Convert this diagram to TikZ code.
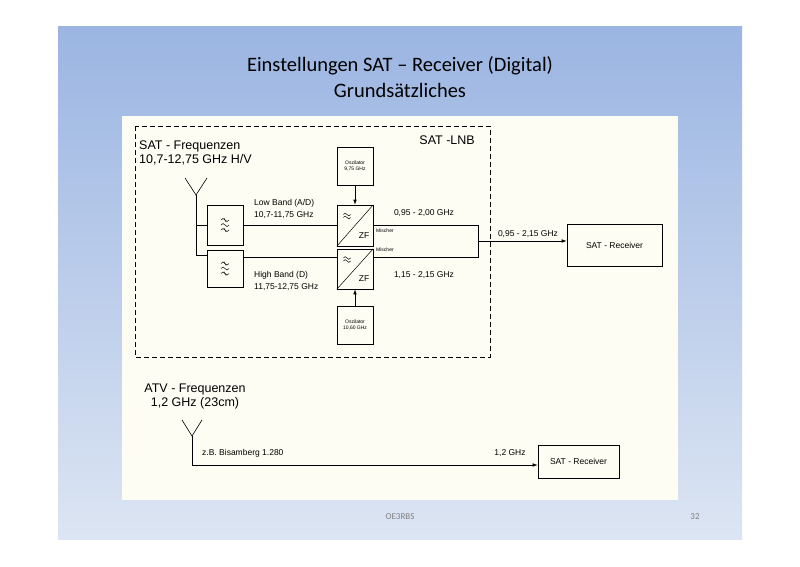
\documentclass[tikz,border=0pt]{standalone}
\usepackage{fontspec}
\setmainfont{Liberation Sans}
\newfontfamily\titlefont{Carlito}
\newfontfamily\symfont{DejaVu Sans}
\usetikzlibrary{arrows.meta}
\definecolor{topblue}{HTML}{9BB5E2}
\definecolor{botblue}{HTML}{DCE5F3}
\definecolor{cream}{HTML}{FDFDF3}
\tikzset{
  blk/.style={draw,line width=0.6pt,fill=cream,inner sep=0pt},
  wire/.style={line width=0.6pt},
  arr/.style={wire,-{Latex[length=5pt,width=3.5pt]}},
  lbl/.style={font=\fontsize{8.5}{9}\selectfont,inner sep=0pt},
  tiny/.style={font=\fontsize{5}{6}\selectfont,align=center,inner sep=0pt},
  big/.style={font=\fontsize{12.5}{14}\selectfont,inner sep=0pt,align=left},
  tilde/.pic={\draw[line width=0.5pt] (-4,0) sin (-2,-1.5) cos (0,0) sin (2,1.5) cos (4,0);},
}
\begin{document}
\begin{tikzpicture}[x=1pt,y=-1pt]
\useasboundingbox (0,0) rectangle (800,566);
\fill[white] (0,0) rectangle (800,566);
\shade[top color=topblue,bottom color=botblue] (58,26) rectangle (742,539);
\fill[cream] (122,116) rectangle (678,500);
\node[font=\titlefont\fontsize{20.5}{24}\selectfont] (t1) at (400,66) {Einstellungen SAT – Receiver (Digital)};
\node[font=\titlefont\fontsize{20.5}{24}\selectfont] (t2) at (400,90) {Grundsätzliches};
\node[font=\titlefont\fontsize{9}{10}\selectfont,text=gray] (f1) at (400,517) {OE3RBS};
\node[font=\titlefont\fontsize{9}{10}\selectfont,text=gray] (f2) at (695,517) {32};
% LNB box
\draw[line width=0.6pt,dash pattern=on 5pt off 3pt] (135,126) rectangle (490,357);
\node[big,anchor=east] (lnb) at (475,140) {SAT -LNB};
\node[big,anchor=north west] (satf) at (139,141) {SAT - Frequenzen\\10,7-12,75 GHz H/V};
% antenna
\coordinate (a1) at (196,195);
\draw[wire] (185,178) -- (a1) -- (207,178);
\coordinate (a1b) at (196,255);
\coordinate (a1m) at (196,225);
% filters
\node[blk,minimum width=36pt,minimum height=40pt] (f1b) at (225,225) {};
\node[blk,minimum width=36pt,minimum height=37pt] (f2b) at (225,268.5) {};
\foreach \b in {f1b,f2b}{
  \pic at ([yshift=-5]\b.center) {tilde};
  \pic at (\b.center) {tilde};
  \pic at ([yshift=5]\b.center) {tilde};
  \draw[line width=0.4pt] ([shift={(-1,-7)}]\b.center) -- ([shift={(1,-3)}]\b.center);
  \draw[line width=0.4pt] ([shift={(-1,3)}]\b.center) -- ([shift={(1,7)}]\b.center);
}
\draw[wire] (a1) -- (a1b) -- (f2b.west |- a1b);
\draw[wire] (a1m) -- (f1b.west |- a1m);
% mixers
\node[blk,minimum width=36pt,minimum height=41pt] (m1) at (355,225.5) {};
\node[blk,minimum width=36pt,minimum height=40pt] (m2) at (355,269) {};
\foreach \m in {m1,m2}{
  \draw[line width=0.5pt] (\m.south west) -- (\m.north east);
  \pic[scale=0.9] at ([shift={(-8,-11)}]\m.center) {tilde};
  \pic[scale=0.9] at ([shift={(-8,-8)}]\m.center) {tilde};
  \node[lbl] at ([shift={(9,10)}]\m.center) {ZF};
}
\draw[wire] (f1b.east |- 0,225) -- (m1.west |- 0,225);
\draw[wire] (f2b.east |- 0,257) -- (m2.west |- 0,257);
% oscillators
\node[blk,minimum width=36pt,minimum height=38pt] (o1) at (355,166) {};
\node[tiny] at (o1) {Oszilator\\9,75 GHz};
\node[blk,minimum width=36pt,minimum height=38pt] (o2) at (355,325) {};
\node[tiny] at (o2) {Oszilator\\10,60 GHz};
\draw[arr] (o1) -- (m1);
\draw[arr] (o2) -- (m2);
% outputs
\coordinate (j1) at (478,225);
\coordinate (j2) at (478,257);
\coordinate (jm) at (478,241);
\draw[wire] (m1.east |- j1) -- (j1) -- (j2) -- (m2.east |- j2);
\node[blk,minimum width=95pt,minimum height=42pt] (r1) at (614.5,245) {};
\node[lbl] at (r1) {SAT - Receiver};
\draw[arr] (jm) -- (r1.west |- jm);
\node[lbl] (l1) at (528,234) {0,95 - 2,15 GHz};
\node[lbl,anchor=west] at (254,203) {Low Band (A/D)};
\node[lbl,anchor=west] at (254,215) {10,7-11,75 GHz};
\node[lbl,anchor=west] at (254,275) {High Band (D)};
\node[lbl,anchor=west] at (254,287) {11,75-12,75 GHz};
\node[lbl] at (424,213) {0,95 - 2,00 GHz};
\node[lbl] at (424,275) {1,15 - 2,15 GHz};
\node[tiny,anchor=west] at (376,231) {Mischer};
\node[tiny,anchor=west] at (376,250) {Mischer};
% ATV
\node[big,align=center] (atv) at (195,396) {ATV - Frequenzen\\1,2 GHz (23cm)};
\coordinate (a2) at (192,436);
\draw[wire] (182,420) -- (a2) -- (202,420);
\coordinate (a2b) at (192,465);
\node[blk,minimum width=81pt,minimum height=33pt] (r2) at (578.5,461.5) {};
\node[lbl] at (r2) {SAT - Receiver};
\draw[arr] (a2) -- (a2b) -- (r2.west |- a2b);
\node[lbl,anchor=west] at (202,453) {z.B. Bisamberg 1.280};
\node[lbl] at (510,453) {1,2 GHz};
\end{tikzpicture}
\end{document}
